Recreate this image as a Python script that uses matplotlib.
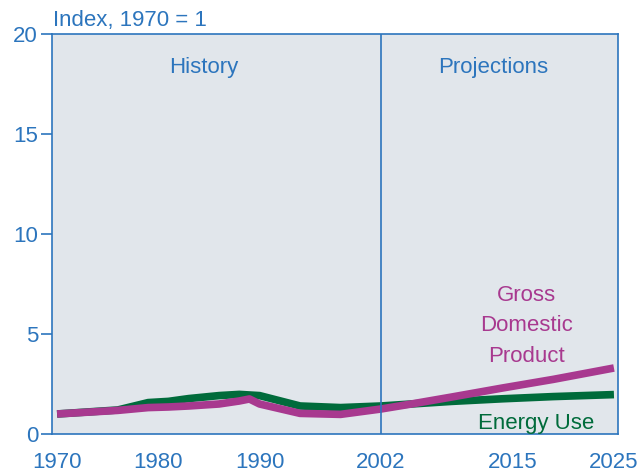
import numpy as np
import matplotlib
matplotlib.use('Agg')
import matplotlib.pyplot as plt

plt.rcParams['font.family'] = ['Liberation Sans', 'DejaVu Sans']

# values (index, 1970 = 1)
gdp_years = [1970, 1976, 1979, 1981, 1983, 1986, 1988, 1989, 1990, 1994, 1998,
             2002, 2005, 2009, 2014, 2019, 2025]
gdp_index = [1.0, 1.18, 1.32, 1.35, 1.4, 1.5, 1.65, 1.75, 1.5, 1.03, 0.98,
             1.25, 1.5, 1.85, 2.3, 2.73, 3.3]

energy_years = [1970, 1976, 1979, 1981, 1983, 1986, 1988, 1990, 1994, 1998,
                2002, 2005, 2009, 2014, 2019, 2025]
energy_index = [1.0, 1.2, 1.57, 1.63, 1.77, 1.92, 1.98, 1.92, 1.4, 1.32,
                1.4, 1.5, 1.63, 1.76, 1.87, 1.97]

x_ticks = [1970, 1980, 1990, 2002, 2015, 2025]
y_ticks = [0, 5, 10, 15, 20]
split_year = 2002

blue = '#2c75bd'
magenta = '#a8398f'
green = '#006b3b'
panel = '#e1e6eb'

fig = plt.figure(figsize=(6.41, 4.73), dpi=100)
ax = fig.add_axes([0.0811, 0.0825, 0.883, 0.8455])
ax.set_facecolor(panel)

ax.plot(energy_years, energy_index, color=green, linewidth=5.5,
        solid_capstyle='butt', solid_joinstyle='round')
ax.plot(gdp_years, gdp_index, color=magenta, linewidth=5.5,
        solid_capstyle='butt', solid_joinstyle='round')

ax.axvline(split_year, color=blue, linewidth=1.2)

ax.set_xlim(1969.5, 2025.4)
ax.set_ylim(0, 20)
ax.set_xticks(x_ticks)
ax.set_yticks(y_ticks)
ax.tick_params(axis='x', length=0, pad=13, labelsize=16, labelcolor=blue)
ax.tick_params(axis='y', length=8, width=1.2, color=blue, pad=2,
               labelsize=16, labelcolor=blue)
for s in ax.spines.values():
    s.set_color(blue)
    s.set_linewidth(1.2)

ax.text(1969.6, 20.4, 'Index, 1970 = 1', color=blue, fontsize=16,
        ha='left', va='baseline', clip_on=False)
ax.text(1984.5, 18.35, 'History', color=blue, fontsize=16, ha='center', va='center')
ax.text(2013.1, 18.35, 'Projections', color=blue, fontsize=16, ha='center', va='center')
ax.text(2016.4, 5.4, 'Gross\nDomestic\nProduct', color=magenta, fontsize=16,
        ha='center', va='center', linespacing=1.6)
ax.text(2017.3, 0.5, 'Energy Use', color=green, fontsize=16, ha='center', va='center')

fig.savefig('out.png', dpi=100)
